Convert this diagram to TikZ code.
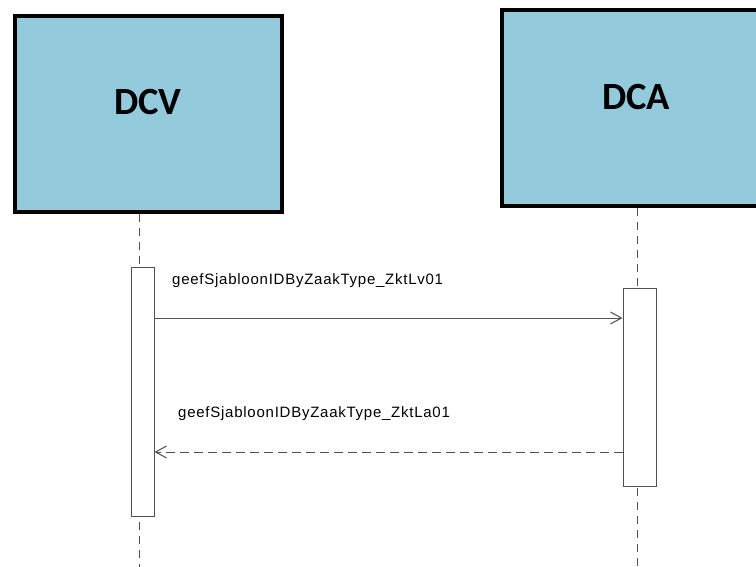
\documentclass[tikz,border=0pt]{standalone}
\usepackage{fontspec}
\setmainfont{Liberation Sans}
\newfontfamily\headfont{Carlito}
\newfontfamily\msgfont[LetterSpace=5]{Liberation Sans}
\usetikzlibrary{arrows.meta}
\definecolor{boxblue}{HTML}{93CBDC}
\definecolor{linegray}{HTML}{505050}
\begin{document}
\begin{tikzpicture}[x=1pt,y=-1pt,
  actor/.style={draw=black,line width=3.5pt,fill=boxblue,minimum width=267pt,minimum height=196pt,inner sep=0pt},
  headtext/.style={font=\headfont\bfseries\fontsize{38.5}{40}\selectfont,inner sep=0pt},
  lifeline/.style={draw=linegray,line width=0.9pt,dash pattern=on 8pt off 6pt},
  actbox/.style={draw=linegray,line width=1pt,fill=white,inner sep=0pt},
  msg/.style={draw=linegray,line width=1pt,-{Straight Barb[length=11pt,width=12pt]}},
  ret/.style={msg,dash pattern=on 9pt off 5pt},
  msgtext/.style={font=\msgfont\fontsize{15}{16}\selectfont,inner sep=0pt,anchor=base west}]
\useasboundingbox (0,0) rectangle (756,567);
\clip (0,0) rectangle (756,567);
% actors
\node[actor] (dcv) at (148.5,114) {};
\node[actor,minimum width=268pt] (dca) at (636,108) {};
\node[headtext] (dcvt) at (148,102) {DCV};
\node[headtext] (dcat) at (636,97) {DCA};
% lifeline ends
\coordinate (dcvend) at (139,570);
\coordinate (dcaend) at (637,570);
\draw[lifeline] (dcv.south -| dcvend) -- (dcvend);
\draw[lifeline] (dca.south -| dcaend) -- (dcaend);
% activations
\node[actbox,minimum width=23pt,minimum height=248pt] (actv) at (142.5,392) {};
\node[actbox,minimum width=33pt,minimum height=198pt] (acta) at (639.5,387) {};
% messages
\coordinate (m1) at (0,318);
\coordinate (m2) at (0,452);
\draw[msg] (actv.east |- m1) -- (acta.west |- m1);
\draw[ret] (acta.west |- m2) -- (actv.east |- m2);
\node[msgtext] (l1) at (172,284) {geefSjabloonIDByZaakType\_ZktLv01};
\node[msgtext] (l2) at (178,417) {geefSjabloonIDByZaakType\_ZktLa01};
\end{tikzpicture}
\end{document}
